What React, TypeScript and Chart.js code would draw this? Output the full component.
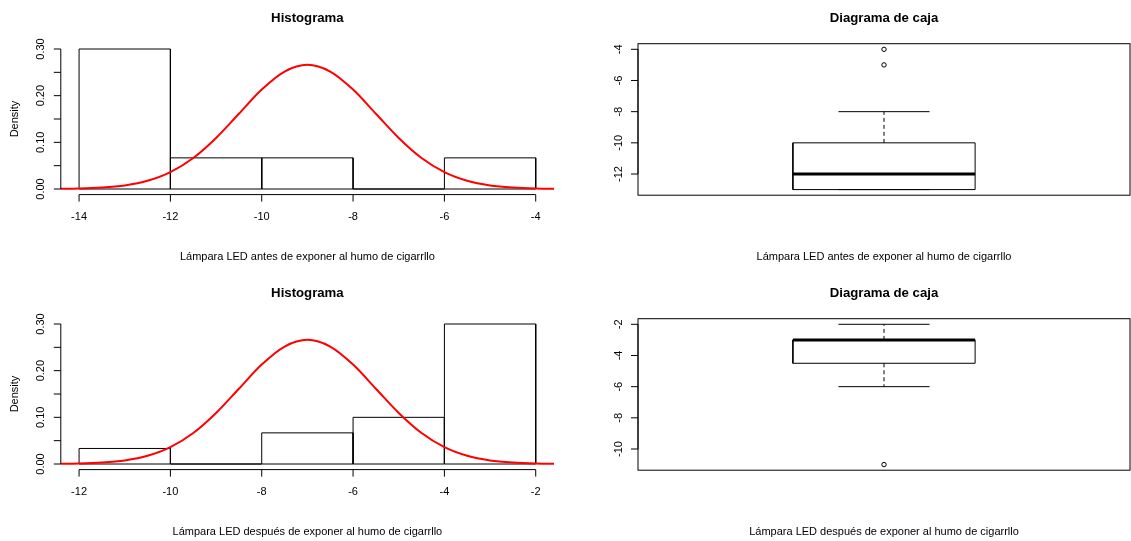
import React, { useEffect, useRef } from "react";
import { Chart, registerables } from "chart.js";

Chart.register(...registerables);

// ---------- data ----------
const histTitle = "Histograma";
const boxTitle = "Diagrama de caja";
const xLabelBefore = "Lámpara LED antes de exponer al humo de cigarrllo";
const xLabelAfter = "Lámpara LED después de exponer al humo de cigarrllo";
const yLabelHist = "Density";

const histBreaksBefore = [-14, -12, -10, -8, -6, -4];
const histDensityBefore = [0.3, 0.0667, 0.0667, 0, 0.0667];
const histBreaksAfter = [-12, -10, -8, -6, -4, -2];
const histDensityAfter = [0.0333, 0, 0.0667, 0.1, 0.3];

const curveXBefore = [-14.5, -14, -13.5, -13, -12.5, -12, -11.5, -11, -10.5, -10, -9.5, -9, -8.5, -8, -7.5, -7, -6.5, -6, -5.5, -5, -4.5, -4, -3.5];
const curveYBefore = [0.0003, 0.001, 0.003, 0.0076, 0.0175, 0.036, 0.0663, 0.1094, 0.1613, 0.213, 0.2516, 0.266, 0.2516, 0.213, 0.1613, 0.1094, 0.0663, 0.036, 0.0175, 0.0076, 0.003, 0.001, 0.0003];
const curveXAfter = [-12.5, -12, -11.5, -11, -10.5, -10, -9.5, -9, -8.5, -8, -7.5, -7, -6.5, -6, -5.5, -5, -4.5, -4, -3.5, -3, -2.5, -2, -1.5];
const curveYAfter = [0.0003, 0.001, 0.003, 0.0076, 0.0175, 0.036, 0.0663, 0.1094, 0.1613, 0.213, 0.2516, 0.266, 0.2516, 0.213, 0.1613, 0.1094, 0.0663, 0.036, 0.0175, 0.0076, 0.003, 0.001, 0.0003];

const densityTicks = [0, 0.05, 0.1, 0.15, 0.2, 0.25, 0.3];
const densityTickLabels = ["0.00", "", "0.10", "", "0.20", "", "0.30"];
const xTicksBefore = [-14, -12, -10, -8, -6, -4];
const xTicksAfter = [-12, -10, -8, -6, -4, -2];

// [lower whisker, Q1, median, Q3, upper whisker]
const boxStatsBefore = [-13, -13, -12, -10, -8];
const outliersBefore = [-4, -5];
const boxStatsAfter = [-6, -4.5, -3, -3, -2];
const outliersAfter = [-11];
const boxTicksBefore = [-12, -10, -8, -6, -4];
const boxTicksAfter = [-10, -8, -6, -4, -2];

// ---------- layout constants ----------
const FONT = '"Liberation Sans", Arial, Helvetica, sans-serif';
const boxCenter = 1;
const boxHalf = 0.2;
const capHalf = 0.1;

const rPlugin = {
  id: "rstyle",
  afterDraw(chart: any, _args: any, opts: any) {
    const ctx = chart.ctx as CanvasRenderingContext2D;
    const ca = chart.chartArea;
    const xs = chart.scales.x;
    const ys = chart.scales.y;
    ctx.save();
    ctx.fillStyle = "#000";
    ctx.strokeStyle = "#000";
    ctx.lineWidth = 1;
    ctx.setLineDash([]);
    const cx = (ca.left + ca.right) / 2;
    // title
    ctx.font = "bold 13.2px " + FONT;
    ctx.textAlign = "center";
    ctx.textBaseline = "middle";
    ctx.fillText(opts.title, cx, opts.titleY);
    // x title
    ctx.font = "11px " + FONT;
    ctx.fillText(opts.xTitle, cx, opts.xTitleY);
    // y title
    if (opts.yTitle) {
      ctx.save();
      ctx.translate(opts.yTitleX, (ca.top + ca.bottom) / 2);
      ctx.rotate(-Math.PI / 2);
      ctx.fillText(opts.yTitle, 0, 0);
      ctx.restore();
    }
    // y axis
    const yt: number[] = opts.yTicks;
    const yl: string[] = opts.yLabels;
    const yA = ys.getPixelForValue(yt[0]);
    const yB = ys.getPixelForValue(yt[yt.length - 1]);
    ctx.beginPath();
    ctx.moveTo(ca.left, yA);
    ctx.lineTo(ca.left, yB);
    ctx.stroke();
    yt.forEach((v, i) => {
      const py = ys.getPixelForValue(v);
      ctx.beginPath();
      ctx.moveTo(ca.left - 7, py);
      ctx.lineTo(ca.left, py);
      ctx.stroke();
      if (yl[i]) {
        ctx.save();
        ctx.translate(ca.left - 19.5, py);
        ctx.rotate(-Math.PI / 2);
        ctx.fillText(yl[i], 0, 0);
        ctx.restore();
      }
    });
    // x axis
    if (opts.xTicks) {
      const xt: number[] = opts.xTicks;
      const xA = xs.getPixelForValue(xt[0]);
      const xB = xs.getPixelForValue(xt[xt.length - 1]);
      ctx.beginPath();
      ctx.moveTo(xA, ca.bottom);
      ctx.lineTo(xB, ca.bottom);
      ctx.stroke();
      xt.forEach((v) => {
        const px = xs.getPixelForValue(v);
        ctx.beginPath();
        ctx.moveTo(px, ca.bottom);
        ctx.lineTo(px, ca.bottom + 7);
        ctx.stroke();
        ctx.fillText(String(v), px, ca.bottom + 22.4);
      });
    }
    if (opts.frame) {
      ctx.strokeRect(ca.left, ca.top, ca.right - ca.left, ca.bottom - ca.top);
    }
    ctx.restore();
  },
};

function histDatasets(breaks: number[], dens: number[], cxv: number[], cyv: number[]) {
  const rects: any[] = [];
  dens.forEach((d, i) => {
    const a = breaks[i];
    const b = breaks[i + 1];
    rects.push({ x: a, y: 0 }, { x: a, y: d }, { x: b, y: d }, { x: b, y: 0 }, { x: a, y: 0 });
    rects.push({ x: b, y: null });
  });
  return [
    {
      data: cxv.map((x, i) => ({ x, y: cyv[i] })),
      showLine: true,
      borderColor: "#ff0000",
      borderWidth: 2,
      pointRadius: 0,
      cubicInterpolationMode: "monotone",
      order: 0,
    },
    {
      data: rects,
      showLine: true,
      spanGaps: false,
      borderColor: "#000",
      borderWidth: 1,
      pointRadius: 0,
      order: 1,
    },
  ];
}

function boxDatasets(stats: number[], outs: number[]) {
  const [lo, q1, med, q3, hi] = stats;
  const L = boxCenter - boxHalf;
  const R = boxCenter + boxHalf;
  const base = { showLine: true, pointRadius: 0, borderColor: "#000", borderWidth: 1, spanGaps: false };
  return [
    { ...base, data: [{ x: L, y: q1 }, { x: R, y: q1 }, { x: R, y: q3 }, { x: L, y: q3 }, { x: L, y: q1 }] },
    { ...base, borderWidth: 3, data: [{ x: L, y: med }, { x: R, y: med }] },
    {
      ...base,
      borderDash: [4, 3],
      data: [{ x: boxCenter, y: q3 }, { x: boxCenter, y: hi }, { x: boxCenter, y: null }, { x: boxCenter, y: q1 }, { x: boxCenter, y: lo }],
    },
    {
      ...base,
      data: [
        { x: boxCenter - capHalf, y: hi }, { x: boxCenter + capHalf, y: hi }, { x: boxCenter, y: null },
        { x: boxCenter - capHalf, y: lo }, { x: boxCenter + capHalf, y: lo },
      ],
    },
    {
      showLine: false,
      data: outs.map((y) => ({ x: boxCenter, y })),
      pointRadius: 2.2,
      pointStyle: "circle",
      pointBorderColor: "#000",
      pointBackgroundColor: "rgba(0,0,0,0)",
      pointBorderWidth: 1,
    },
  ];
}

type PanelProps = {
  left: number;
  top: number;
  width: number;
  height: number;
  padding: any;
  xMin: number;
  xMax: number;
  yMin: number;
  yMax: number;
  datasets: any[];
  rstyle: any;
};

function Panel(p: PanelProps) {
  const ref = useRef<HTMLCanvasElement>(null);
  useEffect(() => {
    const chart = new Chart(ref.current as HTMLCanvasElement, {
      type: "scatter",
      data: { datasets: p.datasets },
      options: {
        animation: false,
        responsive: false,
        events: [],
        layout: { padding: p.padding, autoPadding: false },
        scales: {
          x: { type: "linear", min: p.xMin, max: p.xMax, display: false },
          y: { type: "linear", min: p.yMin, max: p.yMax, display: false },
        },
        plugins: {
          legend: { display: false },
          tooltip: { enabled: false },
          rstyle: p.rstyle,
        } as any,
      },
      plugins: [rPlugin as any],
    } as any);
    return () => chart.destroy();
  }, []);
  return (
    <canvas
      ref={ref}
      width={p.width}
      height={p.height}
      style={{ position: "absolute", left: p.left, top: p.top, width: p.width, height: p.height }}
    />
  );
}

export default function App() {
  const histPadTop = { left: 60.8, right: 11, top: 43.4, bottom: 80.4 };
  const histPadBot = { left: 60.8, right: 11, top: 43.4, bottom: 71.4 };
  const boxPadTop = { left: 73, right: 1, top: 43.7, bottom: 79.8 };
  const boxPadBot = { left: 73, right: 1, top: 43.7, bottom: 70.8 };
  return (
    <div style={{ position: "absolute", left: 0, top: 0, width: 1131, height: 541, background: "#fff", overflow: "hidden" }}>
      <Panel
        left={0} top={0} width={565} height={275} padding={histPadTop}
        xMin={-14.4} xMax={-3.6} yMin={-0.012} yMax={0.312}
        datasets={histDatasets(histBreaksBefore, histDensityBefore, curveXBefore, curveYBefore)}
        rstyle={{ title: histTitle, titleY: 18.5, xTitle: xLabelBefore, xTitleY: 257, yTitle: yLabelHist, yTitleX: 15, yTicks: densityTicks, yLabels: densityTickLabels, xTicks: xTicksBefore }}
      />
      <Panel
        left={565} top={0} width={566} height={275} padding={boxPadTop}
        xMin={0.46} xMax={1.54} yMin={-13.36} yMax={-3.64}
        datasets={boxDatasets(boxStatsBefore, outliersBefore)}
        rstyle={{ title: boxTitle, titleY: 18.5, xTitle: xLabelBefore, xTitleY: 257, yTicks: boxTicksBefore, yLabels: boxTicksBefore.map(String), frame: true }}
      />
      <Panel
        left={0} top={275} width={565} height={266} padding={histPadBot}
        xMin={-12.4} xMax={-1.6} yMin={-0.012} yMax={0.312}
        datasets={histDatasets(histBreaksAfter, histDensityAfter, curveXAfter, curveYAfter)}
        rstyle={{ title: histTitle, titleY: 18.5, xTitle: xLabelAfter, xTitleY: 257, yTitle: yLabelHist, yTitleX: 15, yTicks: densityTicks, yLabels: densityTickLabels, xTicks: xTicksAfter }}
      />
      <Panel
        left={565} top={275} width={566} height={266} padding={boxPadBot}
        xMin={0.46} xMax={1.54} yMin={-11.36} yMax={-1.64}
        datasets={boxDatasets(boxStatsAfter, outliersAfter)}
        rstyle={{ title: boxTitle, titleY: 18.5, xTitle: xLabelAfter, xTitleY: 257, yTicks: boxTicksAfter, yLabels: boxTicksAfter.map(String), frame: true }}
      />
    </div>
  );
}
